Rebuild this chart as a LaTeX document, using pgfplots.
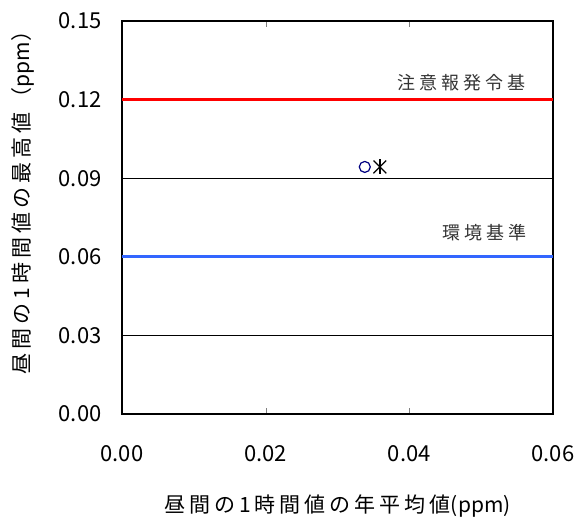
\documentclass[border=0pt]{standalone}
\usepackage{fontspec}
\setmainfont{Noto Sans CJK JP}
\usepackage{pgfplots}
\pgfplotsset{compat=1.18}
\newcommand{\gap}{\hspace{4pt}}
\begin{document}
\begin{tikzpicture}[x=1pt,y=1pt]
\path[use as bounding box] (-122,-103) rectangle (454,414);
\begin{axis}[
    at={(0,0)}, anchor=origin,
    width=431pt, height=393pt,
    scale only axis,
    xmin=0, xmax=0.06, ymin=0, ymax=0.15,
    xtick={0,0.02,0.04,0.06},
    ytick={0,0.03,0.06,0.09,0.12,0.15},
    /pgf/number format/fixed,
    /pgf/number format/fixed zerofill,
    /pgf/number format/precision=2,
    /pgf/number format/assume math mode=true,
    scaled ticks=false,
    tick align=inside,
    major tick length=6pt,
    ticklabel style={font=\fontsize{22}{22}\selectfont},
    xticklabel style={yshift=-28pt},
    yticklabel style={xshift=-17pt},
    axis line style={line width=1.2pt},
    xlabel={昼\gap 間\gap の\gap 1\gap 時\gap 間\gap 値\gap の\gap 年\gap 平\gap 均\gap 値(ppm)},
    ylabel={昼\gap 間\gap の\gap 1\gap 時\gap 間\gap 値\gap の\gap 最\gap 高\gap 値\gap （ppm）},
    label style={font=\fontsize{21}{21}\selectfont},
    xlabel style={yshift=-26pt},
    ylabel style={yshift=18pt, xshift=20pt},
    clip=false,
]
\addplot[black, line width=0.6pt] coordinates {(0,0.03) (0.06,0.03)};
\addplot[black, line width=0.6pt] coordinates {(0,0.09) (0.06,0.09)};
\addplot[red, line width=2.8pt] coordinates {(0,0.12) (0.06,0.12)};
\addplot[color={rgb,255:red,51;green,102;blue,255}, line width=2.8pt] coordinates {(0,0.06) (0.06,0.06)};
\addplot[only marks, mark=o, mark size=5.5pt, color={rgb,255:red,0;green,0;blue,128}, line width=1.2pt] coordinates {(0.0338,0.0943)};
\addplot[only marks, mark=x, mark size=9pt, black, line width=1.3pt] coordinates {(0.0359,0.0943)};
\addplot[only marks, mark=|, mark size=7.5pt, black, line width=1.3pt] coordinates {(0.0359,0.0943)};
\node[font=\fontsize{18}{18}\selectfont, color=black!80] at (axis cs:0.0472,0.1263) {注\gap 意\gap 報\gap 発\gap 令\gap 基};
\node[font=\fontsize{18}{18}\selectfont, color=black!80] at (axis cs:0.0505,0.0691) {環\gap 境\gap 基\gap 準};
\end{axis}
\end{tikzpicture}
\end{document}
